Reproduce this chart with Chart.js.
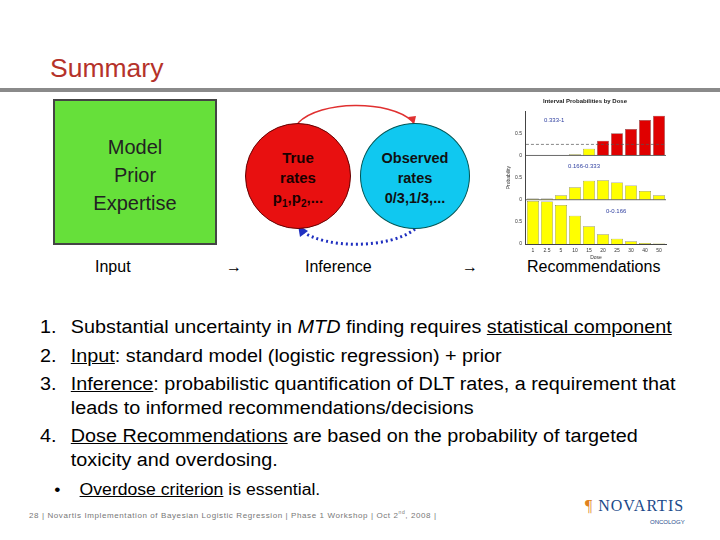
<!DOCTYPE html>
<html><head><meta charset="utf-8">
<script src="https://cdn.jsdelivr.net/npm/chart.js@4"></script>
<style>
body{margin:0;width:720px;height:540px;background:#fff;font-family:Arial,"Liberation Sans",sans-serif;position:relative;overflow:hidden}
.abs{position:absolute}
#title{left:50px;top:53px;font-size:26.5px;color:#b5322a}
#rule{left:0;top:88px;width:720px;height:4px;background:#8a8a8a}
#green{left:53px;top:99px;width:164px;height:146px;background:#66e03a;border:2px solid #444;box-sizing:border-box;text-align:center;font-size:20px;line-height:28px;padding-top:32px;color:#222}
.lbl{font-size:16px;top:258px;color:#000}
.circ{border-radius:50%;width:106px;height:106px;text-align:center;font-weight:bold;font-size:15px;line-height:20px;box-sizing:border-box;padding-top:24px}
#list{left:40px;top:316px;font-size:18px;line-height:23.5px;color:#000;transform:scaleX(1.1);transform-origin:0 0}
#list .it{position:relative;padding-left:28px;margin-bottom:5px}
#list .n{position:absolute;left:0}
u{text-decoration:underline}
#foot{left:29px;top:509px;font-size:8px;color:#777;letter-spacing:0.6px}
</style></head><body>
<div id="title" class="abs">Summary</div>
<div id="rule" class="abs"></div>
<div id="green" class="abs">Model<br>Prior<br>Expertise</div>
<div class="abs lbl" style="left:95px">Input</div>
<div class="abs lbl" style="left:226px">&rarr;</div>
<div class="abs lbl" style="left:305px">Inference</div>
<div class="abs lbl" style="left:462px">&rarr;</div>
<div class="abs lbl" style="left:527px">Recommendations</div>
<svg class="abs" style="left:240px;top:95px" width="230" height="160">
<path d="M58,28 C80,5 150,5 172,26" stroke="#e03030" stroke-width="1.5" fill="none"/>
<path d="M168,22 L174,30 L176,21 z" fill="#e03030"/>
<path d="M175,134 C150,154 85,154 62,136" stroke="#2030c0" stroke-width="3" stroke-dasharray="2,3" fill="none"/>
<path d="M58,130 L60,142 L68,136 z" fill="#2030c0"/>
</svg>
<div class="abs circ" style="left:245px;top:123px;background:#e81010;border:1px solid #600;color:#1a0000">True<br>rates<br>p<sub style="font-size:10px">1</sub>,p<sub style="font-size:10px">2</sub>,...</div>
<div class="abs circ" style="left:360px;top:123px;width:110px;background:#10c8f0;border:1px solid #055;color:#111;font-size:14.5px">Observed<br>rates<br>0/3,1/3,...</div>
<div class="abs" style="left:490px;top:96px;width:180px;height:165px"><canvas id="c" width="180" height="165"></canvas></div>
<div id="list" class="abs">
<div class="it"><span class="n">1.</span>Substantial uncertainty in <i>MTD</i> finding requires <u>statistical component</u></div>
<div class="it"><span class="n">2.</span><u>Input</u>: standard model (logistic regression) + prior</div>
<div class="it"><span class="n">3.</span><u>Inference</u>: probabilistic quantification of DLT rates, a requirement that<br>leads to informed recommendations/decisions</div>
<div class="it"><span class="n">4.</span><u>Dose Recommendations</u> are based on the probability of targeted<br>toxicity and overdosing.</div>
<div class="it" style="font-size:16px;margin-top:6px;padding-left:36px"><span class="n" style="left:13px">&bull;</span><u>Overdose criterion</u> is essential.</div>
</div>
<div id="foot" class="abs">28 | Novartis Implementation of Bayesian Logistic Regression | Phase 1 Workshop | Oct 2<sup style="font-size:5px">nd</sup>, 2008 |</div>
<div class="abs" style="left:585px;top:497px;font-family:'Liberation Serif',serif;font-size:16px;color:#1a4a8a;letter-spacing:1px"><span style="color:#e08020">&#x0B6;</span> NOVARTIS</div>
<div class="abs" style="left:650px;top:519px;font-size:6px;color:#1a4a8a">ONCOLOGY</div>
<script>
const doses=['1','2.5','5','10','15','20','25','30','40','50'];
const overdose=[0,0,0,0.03,0.15,0.33,0.5,0.6,0.8,0.9];
const target=[0.03,0.03,0.1,0.28,0.43,0.44,0.39,0.32,0.2,0.1];
const under=[0.97,0.96,0.88,0.64,0.4,0.22,0.12,0.06,0.02,0.01];
const overColors=['#ffff00','#ffff00','#ffff00','#ffff00','#ffff00','#e00000','#e00000','#e00000','#e00000','#e00000'];
const panelLabels=['0.333-1','0.166-0.333','0-0.166'];
const tk={font:{size:5},color:'#333',padding:1};
function yax(){return {stack:'s',stackWeight:1,min:0,max:1,grid:{display:false,tickLength:3},border:{color:'#444'},ticks:{...tk,stepSize:0.5,callback:v=>v===1?'':v}};}
const deco={id:'deco',afterDatasetsDraw(ch){const c=ch.ctx,x=ch.scales.x;c.save();
 const y1=ch.scales.y1;c.strokeStyle='#555';c.setLineDash([3,2]);c.lineWidth=0.7;c.beginPath();c.moveTo(x.left,y1.getPixelForValue(0.25));c.lineTo(x.right,y1.getPixelForValue(0.25));c.stroke();c.setLineDash([]);
 c.strokeStyle='#444';c.lineWidth=0.8;[ch.scales.y1,ch.scales.y2].forEach(s=>{const p=s.getPixelForValue(0);c.beginPath();c.moveTo(x.left,p);c.lineTo(x.right,p);c.stroke();});
 c.fillStyle='#3040a0';c.font='6px Arial';
 c.fillText(panelLabels[0],x.left+18,y1.getPixelForValue(0.75));
 c.fillText(panelLabels[1],x.left+42,ch.scales.y2.getPixelForValue(0.72));
 c.fillText(panelLabels[2],x.left+80,ch.scales.y3.getPixelForValue(0.7));
 c.restore();}};
const bs={borderColor:'#555',borderWidth:0.5,barPercentage:0.85,categoryPercentage:1,grouped:false};
const y2=yax();y2.title={display:true,text:'Probability',font:{size:5},color:'#333',padding:2};
new Chart(document.getElementById('c'),{type:'bar',
data:{labels:doses,datasets:[
{...bs,data:overdose,yAxisID:'y1',backgroundColor:overColors},
{...bs,data:target,yAxisID:'y2',backgroundColor:'#ffff00'},
{...bs,data:under,yAxisID:'y3',backgroundColor:'#ffff00'}]},
options:{responsive:false,animation:false,layout:{padding:{left:14,right:4,top:0,bottom:0}},
plugins:{legend:{display:false},tooltip:{enabled:false},title:{display:true,text:'Interval Probabilities by Dose',font:{size:6,weight:'bold'},color:'#222',padding:{top:2,bottom:6}}},
scales:{x:{grid:{display:false,tickLength:3},border:{color:'#444'},ticks:{...tk,maxRotation:0,autoSkip:false},title:{display:true,text:'Dose',font:{size:5},color:'#333',padding:0}},
y3:yax(),y2:y2,y1:yax()}},
plugins:[deco]});
</script>
</body></html>
